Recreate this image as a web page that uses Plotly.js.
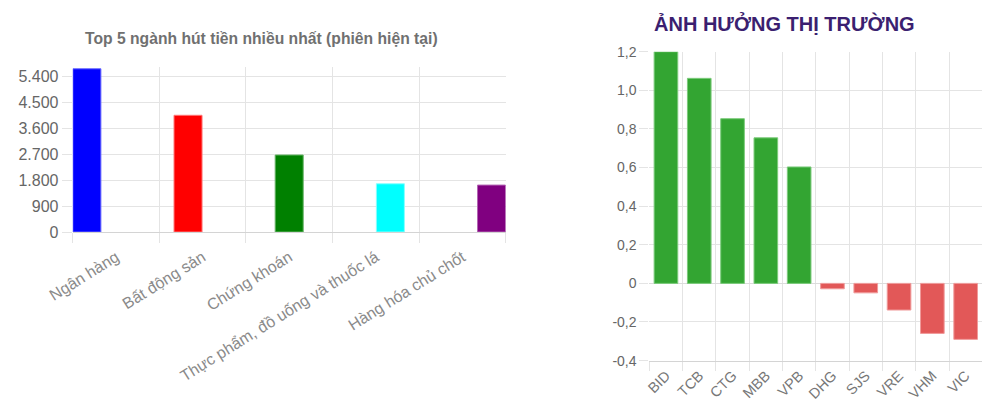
<!DOCTYPE html>
<html>
<head>
<meta charset="utf-8">
<script src="https://cdn.plot.ly/plotly-3.0.1.min.js"></script>
<style>html,body{margin:0;padding:0;background:#fff;}#chart{width:1000px;height:411px;}</style>
</head>
<body>
<div id="chart"></div>
<script>
// Left chart data
var sectorNames = ["Ngân hàng", "Bất động sản", "Chứng khoán", "Thực phẩm, đồ uống và thuốc lá", "Hàng hóa chủ chốt"];
var sectorValues = [5650, 4040, 2665, 1670, 1625];
var sectorColors = ["#0000ff", "#ff0000", "#008000", "#00ffff", "#800080"];
var sectorBorders = ["#6666ff", "#ff7777", "#66b366", "#88ffff", "#b366b3"];
var leftTickVals = [0, 900, 1800, 2700, 3600, 4500, 5400];

// Right chart data
var stockCodes = ["BID", "TCB", "CTG", "MBB", "VPB", "DHG", "SJS", "VRE", "VHM", "VIC"];
var stockImpact = [1.2, 1.062, 0.853, 0.754, 0.603, -0.028, -0.049, -0.138, -0.259, -0.29];
var rightTickVals = [-0.4, -0.2, 0, 0.2, 0.4, 0.6, 0.8, 1.0, 1.2];
var rightTickText = ["-0,4", "-0,2", "0", "0,2", "0,4", "0,6", "0,8", "1,0", "1,2"];

var FONT = "Liberation Sans, Arial, sans-serif";
var GRID = "#e4e4e4";

var leftPos = sectorNames.map(function (_, i) { return i + 0.5; });

var traces = [
  {
    type: "bar",
    x: sectorNames,
    y: sectorValues,
    xaxis: "x",
    yaxis: "y",
    width: 0.277,
    marker: { color: sectorColors, line: { color: sectorBorders, width: 1 } },
    showlegend: false
  },
  {
    // helper trace so the label/grid axis of the left chart is drawn
    type: "scatter",
    mode: "markers",
    x: leftPos,
    y: sectorValues,
    xaxis: "x3",
    yaxis: "y",
    marker: { opacity: 0, size: 1 },
    hoverinfo: "skip",
    showlegend: false
  },
  {
    type: "bar",
    x: stockCodes,
    y: stockImpact,
    xaxis: "x2",
    yaxis: "y2",
    width: 0.71,
    marker: {
      color: stockImpact.map(function (v) { return v >= 0 ? "#33a532" : "#e25858"; }),
      line: { color: stockImpact.map(function (v) { return v >= 0 ? "#7ccb7b" : "#f09a9a"; }), width: 1 }
    },
    showlegend: false
  }
];

var layout = {
  width: 1000,
  height: 411,
  margin: { l: 0, r: 0, t: 0, b: 0 },
  paper_bgcolor: "#fff",
  plot_bgcolor: "rgba(0,0,0,0)",
  separators: ",.",
  font: { family: FONT, color: "#666", size: 14 },
  xaxis: {
    domain: [0.0727, 0.5057],
    anchor: "y",
    type: "category",
    range: [-0.14, 4.14],
    showticklabels: false,
    showgrid: false,
    zeroline: false,
    showline: true,
    linecolor: "#d4d4d4",
    linewidth: 1,
    ticks: ""
  },
  xaxis3: {
    domain: [0.0727, 0.5057],
    anchor: "y",
    overlaying: "x",
    type: "linear",
    range: [0, 5],
    tickmode: "array",
    tickvals: leftPos,
    ticktext: sectorNames,
    tickangle: -32,
    ticks: "",
    ticklabelstandoff: 12,
    showgrid: false,
    zeroline: false,
    showline: false,
    tickfont: { family: FONT, size: 16, color: "#8a8a8a" },
    minor: {
      tickmode: "linear",
      tick0: 0,
      dtick: 1,
      showgrid: true,
      gridcolor: GRID,
      gridwidth: 1,
      ticks: "outside",
      ticklen: 10,
      tickcolor: GRID,
      tickwidth: 1
    }
  },
  yaxis: {
    domain: [0.4355, 0.8377],
    anchor: "x",
    range: [0, 5722],
    tickmode: "array",
    tickvals: leftTickVals,
    separatethousands: true,
    showgrid: true,
    gridcolor: GRID,
    zeroline: false,
    ticks: "outside",
    ticklen: 10,
    tickcolor: GRID,
    tickfont: { family: FONT, size: 16, color: "#666" }
  },
  xaxis2: {
    domain: [0.6493, 0.9823],
    anchor: "y2",
    type: "category",
    tickson: "boundaries",
    showgrid: true,
    gridcolor: GRID,
    ticks: "outside",
    ticklen: 9,
    tickcolor: GRID,
    tickangle: -45,
    showline: true,
    linecolor: "#d4d4d4",
    tickfont: { family: FONT, size: 14.5, color: "#777" }
  },
  yaxis2: {
    domain: [0.1226, 0.8742],
    anchor: "x2",
    range: [-0.4, 1.2],
    tickmode: "array",
    tickvals: rightTickVals,
    ticktext: rightTickText,
    showgrid: true,
    gridcolor: GRID,
    zeroline: true,
    zerolinecolor: "#dcdcdc",
    zerolinewidth: 1,
    ticks: "outside",
    ticklen: 9,
    tickcolor: GRID,
    tickfont: { family: FONT, size: 14, color: "#666" }
  },
  annotations: [
    {
      text: "<b>Top 5 ngành hút tiền nhiều nhất (phiên hiện tại)</b>",
      xref: "paper", yref: "paper",
      x: 261 / 1000, y: 1 - 38 / 411,
      xanchor: "center", yanchor: "middle",
      showarrow: false,
      font: { family: FONT, size: 15.7, color: "#707070" }
    },
    {
      text: "<b>ẢNH HƯỞNG THỊ TRƯỜNG</b>",
      xref: "paper", yref: "paper",
      x: 652 / 1000, y: 1 - 23 / 411,
      xanchor: "left", yanchor: "middle",
      showarrow: false,
      font: { family: FONT, size: 20, color: "#3b1f70" }
    }
  ]
};

Plotly.newPlot("chart", traces, layout, { displayModeBar: false, staticPlot: true });
</script>
</body>
</html>
